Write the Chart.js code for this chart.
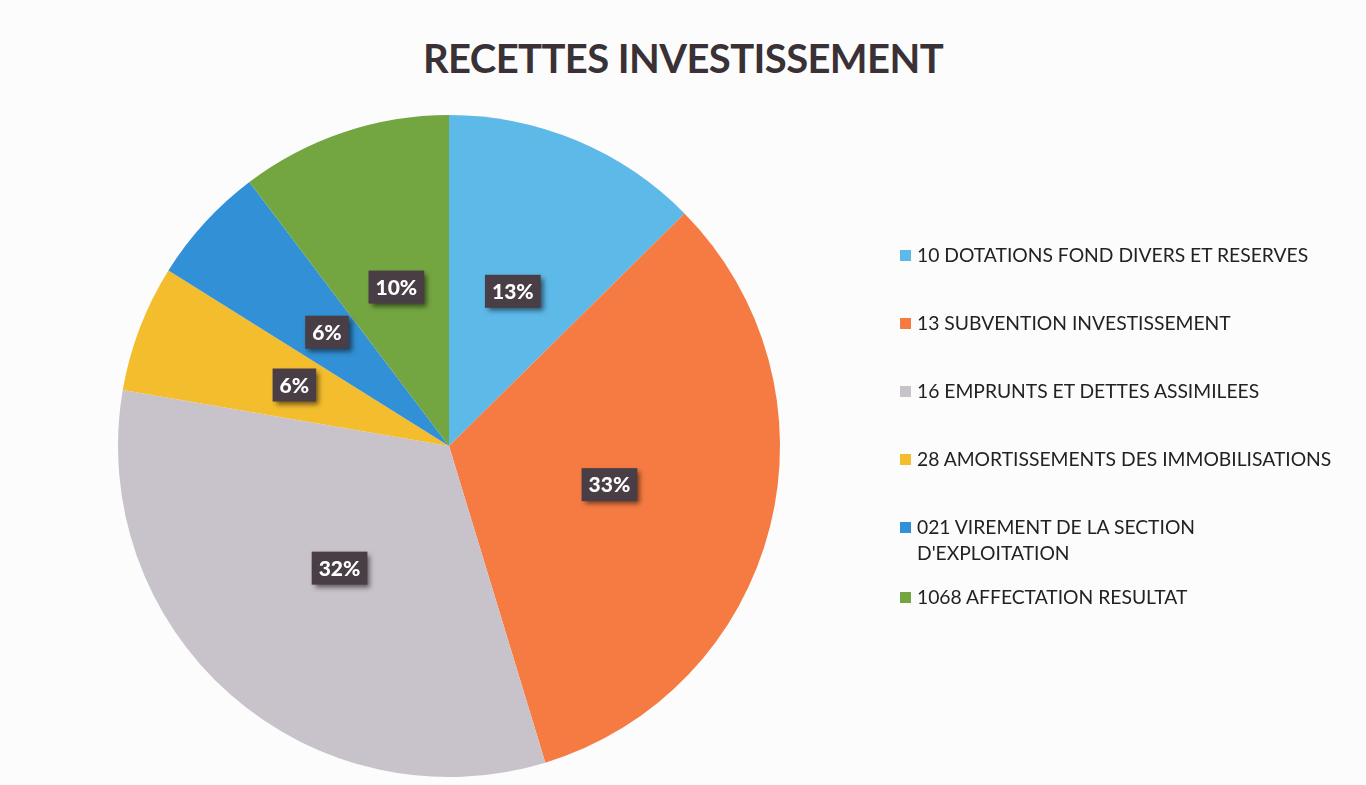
<!DOCTYPE html>
<html>
<head>
<meta charset="utf-8">
<script src="https://cdn.jsdelivr.net/npm/chart.js@4/dist/chart.umd.min.js"></script>
<style>
  html, body { margin: 0; padding: 0; background: #fcfcfc; }
  #wrap { position: relative; width: 1366px; height: 785px; overflow: hidden; }
  #pie { position: absolute; left: 0; top: 0; }
  #title {
    position: absolute; left: 0; top: 34px; width: 1366px; text-align: center;
    font-family: Lato, sans-serif; font-weight: bold; font-size: 40px;
    color: #3a3136; letter-spacing: -0.6px;
  }
  #legend {
    position: absolute; left: 900px; top: 242px; width: 445px;
    font-family: Lato, sans-serif; font-size: 19.3px; color: #222;
  }
  .item { position: relative; padding-left: 17px; line-height: 26px; margin-bottom: 42px; }
  .item.wrapped { margin-bottom: 18px; }
  .sw { position: absolute; left: 0; top: 8px; width: 11px; height: 11px; }
</style>
</head>
<body>
<div id="wrap">
  <div id="title">RECETTES INVESTISSEMENT</div>
  <canvas id="pie" width="1366" height="785"></canvas>
  <div id="legend"></div>
</div>
<script>
const LABELS = [
  "10 DOTATIONS FOND DIVERS ET RESERVES",
  "13 SUBVENTION  INVESTISSEMENT",
  "16 EMPRUNTS ET DETTES ASSIMILEES",
  "28 AMORTISSEMENTS DES IMMOBILISATIONS",
  "021 VIREMENT DE LA SECTION D'EXPLOITATION",
  "1068 AFFECTATION RESULTAT"
];
// shares (percent)
const VALUES = [12.6, 32.7, 32.4, 6.2, 5.8, 10.3];
const COLORS = ["#5db9e8", "#f57b42", "#c8c3cb", "#f3bd2e", "#3290d6", "#73a640"];

// legend built from the same arrays
const legend = document.getElementById("legend");
LABELS.forEach((lab, i) => {
  const div = document.createElement("div");
  div.className = "item" + (i === 4 ? " wrapped" : "");
  div.innerHTML = `<span class="sw" style="background:${COLORS[i]}"></span>${lab}`;
  legend.appendChild(div);
});

const boxLabels = {
  id: "boxLabels",
  afterDatasetsDraw(chart) {
    const ctx = chart.ctx;
    const meta = chart.getDatasetMeta(0);
    const total = VALUES.reduce((a, b) => a + b, 0);
    ctx.save();
    ctx.font = "900 21px Lato, sans-serif";
    ctx.textAlign = "center";
    ctx.textBaseline = "middle";
    meta.data.forEach((arc, i) => {
      const p = arc.tooltipPosition();
      const txt = Math.round(VALUES[i] / total * 100) + "%";
      const w = ctx.measureText(txt).width + 14;
      const h = 33;
      ctx.save();
      ctx.shadowColor = "rgba(0,0,0,0.55)";
      ctx.shadowBlur = 5;
      ctx.shadowOffsetX = 3;
      ctx.shadowOffsetY = 3;
      ctx.fillStyle = "#4a3e46";
      ctx.fillRect(p.x - w / 2, p.y - 2 - h / 2, w, h);
      ctx.restore();
      ctx.fillStyle = "#ffffff";
      ctx.fillText(txt, p.x, p.y - 1);
    });
    ctx.restore();
  }
};

new Chart(document.getElementById("pie"), {
  type: "pie",
  data: {
    labels: LABELS,
    datasets: [{ data: VALUES, backgroundColor: COLORS, borderWidth: 0 }]
  },
  options: {
    responsive: false,
    animation: false,
    layout: { padding: { left: 118, right: 586, top: 115, bottom: 8 } },
    plugins: { legend: { display: false }, tooltip: { enabled: false } }
  },
  plugins: [boxLabels]
});
</script>
</body>
</html>
